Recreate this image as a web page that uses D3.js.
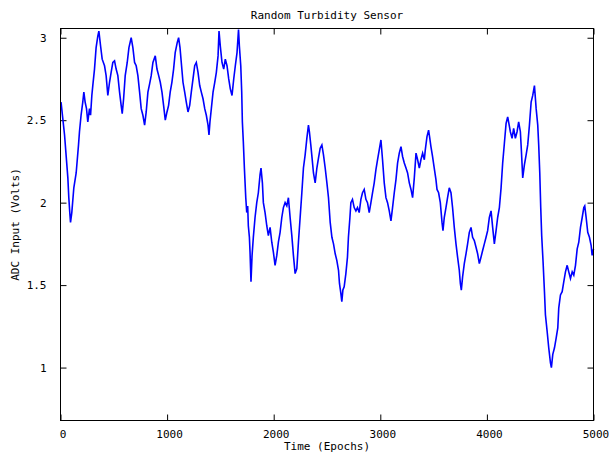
<!DOCTYPE html>
<html>
<head>
<meta charset="utf-8">
<script src="https://cdn.jsdelivr.net/npm/d3@7"></script>
<style>
  html, body { margin: 0; padding: 0; background: #fff; }
  svg { display: block; }
  text { font-family: "DejaVu Sans Mono", "Liberation Mono", monospace; font-size: 11px; fill: #000; }
</style>
</head>
<body>
<svg id="chart" width="609" height="457"></svg>
<script>
// Sensor trace: epoch index and ADC voltage
const epochs = [
  5, 38, 69, 78, 87, 94, 106, 125, 147, 169, 178, 193, 209, 219, 231, 244, 256, 272, 282, 294,
  303, 319, 334, 350, 360, 376, 391, 413, 428, 444, 460, 475, 491, 507, 522, 538, 554, 569, 579, 592,
  607, 626, 642, 663, 679, 695, 710, 726, 742, 757, 773, 789, 804, 820, 836, 851, 867, 889, 905, 921,
  936, 952, 967, 983, 999, 1014, 1029, 1045, 1061, 1076, 1095, 1108, 1121, 1133, 1149, 1165, 1180, 1196, 1212, 1227,
  1243, 1259, 1274, 1290, 1306, 1321, 1337, 1353, 1368, 1384, 1393, 1402, 1415, 1431, 1447, 1462, 1478, 1487, 1499, 1515,
  1531, 1546, 1562, 1578, 1593, 1609, 1625, 1640, 1656, 1665, 1670, 1678, 1691, 1700, 1706, 1715, 1725, 1738, 1747, 1756,
  1762, 1772, 1778, 1787, 1797, 1809, 1825, 1841, 1856, 1872, 1881, 1894, 1903, 1919, 1935, 1950, 1966, 1982, 1997, 2013,
  2029, 2044, 2060, 2076, 2091, 2107, 2123, 2138, 2154, 2170, 2185, 2201, 2217, 2232, 2248, 2264, 2279, 2295, 2311, 2326,
  2335, 2348, 2360, 2373, 2389, 2405, 2420, 2436, 2452, 2467, 2483, 2499, 2514, 2530, 2546, 2561, 2577, 2592, 2608, 2617,
  2630, 2639, 2649, 2661, 2677, 2692, 2701, 2715, 2724, 2739, 2755, 2771, 2786, 2802, 2818, 2833, 2849, 2865, 2880, 2896,
  2912, 2927, 2943, 2959, 2974, 2990, 3006, 3021, 3037, 3053, 3068, 3084, 3100, 3115, 3131, 3147, 3162, 3178, 3194, 3209,
  3225, 3241, 3256, 3272, 3288, 3303, 3319, 3335, 3350, 3366, 3381, 3397, 3413, 3422, 3438, 3453, 3462, 3475, 3490, 3506,
  3522, 3532, 3547, 3563, 3579, 3588, 3600, 3616, 3631, 3647, 3663, 3678, 3694, 3710, 3725, 3741, 3751, 3760, 3772, 3788,
  3804, 3819, 3835, 3851, 3866, 3882, 3898, 3913, 3929, 3945, 3960, 3976, 3992, 4007, 4023, 4039, 4054, 4070, 4086, 4101,
  4117, 4133, 4148, 4164, 4180, 4195, 4212, 4220, 4236, 4251, 4267, 4283, 4298, 4314, 4324, 4336, 4352, 4368, 4383, 4399,
  4415, 4430, 4446, 4462, 4477, 4486, 4496, 4505, 4514, 4527, 4540, 4549, 4565, 4580, 4596, 4605, 4618, 4634, 4650, 4665,
  4674, 4690, 4706, 4721, 4737, 4753, 4768, 4784, 4800, 4815, 4831, 4847, 4862, 4878, 4894, 4909, 4918, 4931, 4946, 4962,
  4978, 4987, 5000
];
const volts = [
  2.61, 2.41, 2.15, 2.03, 1.94, 1.88, 1.94, 2.09, 2.18, 2.35, 2.43, 2.53, 2.61, 2.67, 2.61, 2.57, 2.49, 2.57, 2.53, 2.65,
  2.71, 2.81, 2.94, 3.01, 3.04, 2.95, 2.87, 2.83, 2.77, 2.65, 2.73, 2.79, 2.85, 2.86, 2.81, 2.77, 2.67, 2.59, 2.54, 2.63,
  2.77, 2.85, 2.94, 3.00, 2.94, 2.85, 2.83, 2.77, 2.67, 2.57, 2.53, 2.47, 2.55, 2.67, 2.72, 2.77, 2.85, 2.89, 2.81, 2.77,
  2.73, 2.67, 2.59, 2.50, 2.55, 2.59, 2.67, 2.73, 2.81, 2.91, 2.97, 3.00, 2.94, 2.85, 2.73, 2.67, 2.61, 2.55, 2.59, 2.67,
  2.75, 2.83, 2.85, 2.79, 2.71, 2.67, 2.63, 2.57, 2.53, 2.47, 2.41, 2.49, 2.57, 2.67, 2.73, 2.79, 2.89, 3.04, 2.95, 2.85,
  2.81, 2.87, 2.83, 2.75, 2.69, 2.65, 2.75, 2.83, 2.91, 3.00, 3.05, 2.95, 2.83, 2.67, 2.49, 2.37, 2.21, 2.03, 1.94, 1.98,
  1.86, 1.79, 1.70, 1.52, 1.68, 1.79, 1.91, 2.00, 2.06, 2.17, 2.21, 2.12, 2.00, 1.94, 1.86, 1.80, 1.85, 1.76, 1.70, 1.62,
  1.68, 1.76, 1.82, 1.91, 1.97, 2.00, 1.98, 2.03, 1.91, 1.80, 1.68, 1.57, 1.60, 1.76, 1.91, 2.06, 2.21, 2.29, 2.39, 2.47,
  2.43, 2.35, 2.27, 2.18, 2.12, 2.21, 2.27, 2.33, 2.35, 2.29, 2.21, 2.12, 2.03, 1.88, 1.79, 1.75, 1.69, 1.65, 1.59, 1.51,
  1.45, 1.40, 1.47, 1.49, 1.57, 1.67, 1.79, 1.91, 2.00, 2.02, 1.97, 1.95, 1.97, 1.94, 2.02, 2.06, 2.08, 2.02, 2.00, 1.94,
  2.00, 2.06, 2.12, 2.20, 2.26, 2.32, 2.38, 2.26, 2.12, 2.03, 2.00, 1.95, 1.89, 1.97, 2.06, 2.14, 2.24, 2.30, 2.34, 2.28,
  2.24, 2.21, 2.18, 2.12, 2.08, 2.03, 2.15, 2.30, 2.26, 2.21, 2.26, 2.30, 2.26, 2.32, 2.40, 2.44, 2.40, 2.34, 2.28, 2.21,
  2.14, 2.08, 2.06, 2.00, 1.88, 1.83, 1.91, 1.97, 2.03, 2.09, 2.06, 1.97, 1.85, 1.75, 1.67, 1.59, 1.51, 1.47, 1.55, 1.63,
  1.69, 1.75, 1.82, 1.85, 1.79, 1.77, 1.73, 1.69, 1.63, 1.67, 1.71, 1.75, 1.79, 1.83, 1.91, 1.95, 1.85, 1.75, 1.83, 1.91,
  1.97, 2.09, 2.24, 2.36, 2.48, 2.52, 2.46, 2.43, 2.39, 2.45, 2.39, 2.43, 2.49, 2.43, 2.31, 2.15, 2.23, 2.29, 2.35, 2.47,
  2.61, 2.65, 2.71, 2.57, 2.47, 2.35, 2.18, 1.97, 1.80, 1.64, 1.46, 1.32, 1.22, 1.12, 1.03, 1.00, 1.08, 1.12, 1.18, 1.24,
  1.36, 1.44, 1.46, 1.52, 1.58, 1.62, 1.58, 1.54, 1.58, 1.56, 1.62, 1.72, 1.76, 1.85, 1.91, 1.97, 1.98, 1.91, 1.82, 1.79,
  1.74, 1.68, 1.72
];
const xTicks = [0, 1000, 2000, 3000, 4000, 5000];
const yTicks = [1, 1.5, 2, 2.5, 3];
const xDomain = [0, 5000];
const yDomain = [0.679, 3.056];
const title = "Random Turbidity Sensor";
const xLabel = "Time (Epochs)";
const yLabel = "ADC Input (Volts)";

const points = epochs.map((e, i) => ({ e, v: volts[i] }));

const svg = d3.select("#chart");
const plot = { left: 60.5, right: 593.5, top: 28.5, bottom: 420.5 };
const tickLen = 6;

const x = d3.scaleLinear().domain(xDomain).range([plot.left, plot.right]);
const y = d3.scaleLinear().domain(yDomain).range([plot.bottom, plot.top]);

// Inward ticks on all four sides, labels on bottom and left only
const axisStyle = g => {
  g.select(".domain").remove();
  g.selectAll(".tick line").attr("stroke", "#000").attr("stroke-width", 1);
  g.selectAll(".tick text").attr("fill", "#000")
    .style("font-family", "'DejaVu Sans Mono', monospace").style("font-size", "11px");
};

svg.append("g")
  .attr("transform", `translate(0,${plot.bottom})`)
  .call(d3.axisBottom(x).tickValues(xTicks).tickSizeInner(-tickLen).tickSizeOuter(0).tickPadding(10).tickFormat(d3.format("d")))
  .call(axisStyle)
  .call(g => g.selectAll(".tick text").attr("dx", 2));

svg.append("g")
  .attr("transform", `translate(0,${plot.top})`)
  .call(d3.axisTop(x).tickValues(xTicks).tickSizeInner(-tickLen).tickSizeOuter(0).tickFormat(""))
  .call(axisStyle);

svg.append("g")
  .attr("transform", `translate(${plot.left},0)`)
  .call(d3.axisLeft(y).tickValues(yTicks).tickSizeInner(-tickLen).tickSizeOuter(0).tickPadding(14).tickFormat(d3.format("")))
  .call(axisStyle);

svg.append("g")
  .attr("transform", `translate(${plot.right},0)`)
  .call(d3.axisRight(y).tickValues(yTicks).tickSizeInner(-tickLen).tickSizeOuter(0).tickFormat(""))
  .call(axisStyle);

// Trace
const line = d3.line().x(d => x(d.e)).y(d => y(d.v));
svg.append("path")
  .datum(points)
  .attr("fill", "none")
  .attr("stroke", "#0000ff")
  .attr("stroke-width", 1.6)
  .attr("stroke-linejoin", "miter")
  .attr("d", line);

// Frame
svg.append("rect")
  .attr("x", plot.left).attr("y", plot.top)
  .attr("width", plot.right - plot.left).attr("height", plot.bottom - plot.top)
  .attr("fill", "none").attr("stroke", "#000").attr("stroke-width", 1);

// Titles
svg.append("text")
  .attr("x", (plot.left + plot.right) / 2).attr("y", 19)
  .attr("text-anchor", "middle").text(title);

svg.append("text")
  .attr("x", (plot.left + plot.right) / 2).attr("y", 450)
  .attr("text-anchor", "middle").text(xLabel);

svg.append("text")
  .attr("transform", `translate(19,${(plot.top + plot.bottom) / 2}) rotate(-90)`)
  .attr("text-anchor", "middle").text(yLabel);
</script>
</body>
</html>
